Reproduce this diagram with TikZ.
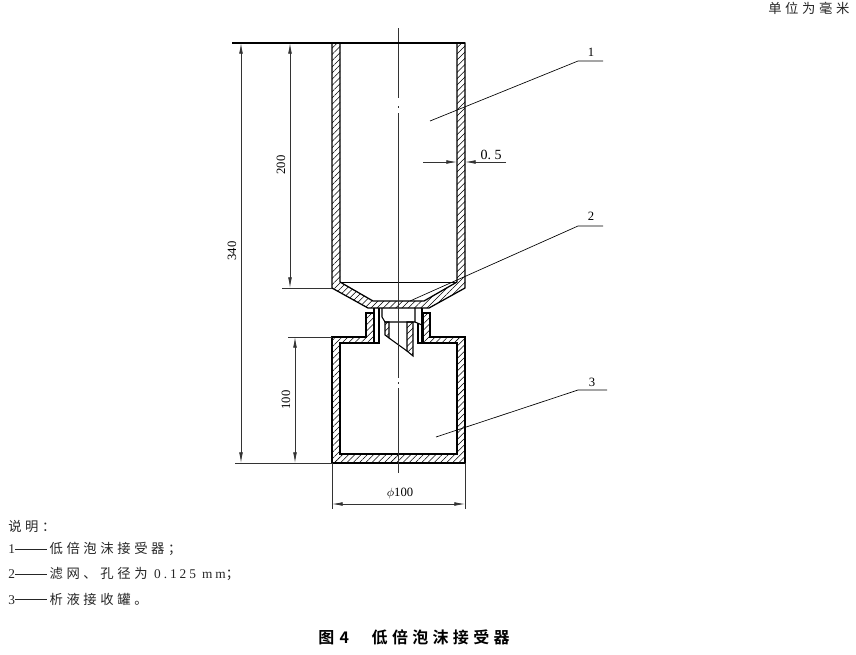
\documentclass[tikz,border=0pt]{standalone}
\usepackage{fontspec}
\newfontfamily\cjk[LetterSpace=27]{Noto Sans CJK SC}
\newfontfamily\cjkcap[LetterSpace=27,BoldFont={Noto Sans CJK SC Bold}]{Noto Sans CJK SC}
\newfontfamily\latwide[LetterSpace=22]{Liberation Serif}
\setmainfont{Liberation Serif}
\newcommand{\lat}[1]{{\latwide #1}}
\newcommand{\longdash}{\rule[0.32em]{24pt}{0.45pt}\hspace{2pt}}
\usetikzlibrary{arrows.meta,patterns.meta}

\begin{document}
\begin{tikzpicture}[x=0.75pt,y=-0.75pt,
    wall/.style={line width=0.95pt,pattern={Lines[angle=45,distance=3.3pt,line width=0.4pt]}},
    edgeline/.style={line width=0.8pt},
    dim/.style={line width=0.55pt,black!80,{Latex[length=8pt,width=2.8pt]}-{Latex[length=8pt,width=2.8pt]}},
    dimtip/.style={line width=0.55pt,black!80,-{Latex[length=8pt,width=2.8pt]}},
    extline/.style={line width=0.55pt,black!80},
    leader/.style={line width=0.5pt},
    num/.style={font=\fontsize{9.5}{11}\selectfont,inner sep=0pt},
    say/.style={font=\fontsize{10}{12}\selectfont\cjk,inner sep=0pt,anchor=west,text=black!85}]

\useasboundingbox (0,0) rectangle (856,654);

\coordinate (T0) at (232,43);
\coordinate (T1) at (465,43);
\coordinate (B0) at (235,463);
\coordinate (B1) at (332,463);
\coordinate (M0) at (282,288);
\coordinate (M1) at (332,288);
\coordinate (N0) at (288,337);
\coordinate (N1) at (332,337);
\coordinate (A0) at (241,43);
\coordinate (A1) at (241,463);
\coordinate (C0) at (290,43);
\coordinate (C1) at (290,288);
\coordinate (D0) at (295,337);
\coordinate (D1) at (295,463);
\coordinate (E0) at (332,504);
\coordinate (E1) at (465,504);
\coordinate (F0) at (332,509);
\coordinate (F1) at (465,509);
\coordinate (F2) at (465,463);
\coordinate (G0) at (423,162);
\coordinate (G1) at (457,162);
\coordinate (G2) at (506,162);
\coordinate (G3) at (465,162);

\draw[wall] (332,43) -- (332,288) -- (368,308) -- (429,308) -- (465,288) -- (465,43)
    -- (457,43) -- (457,282) -- (424,301) -- (373,301) -- (340,282) -- (340,43) -- cycle;
\draw[line width=0.5pt] (340,282) -- (457,282);

\draw[wall] (332,337) -- (332,463) -- (465,463) -- (465,337) -- (430,337) -- (430,313) -- (423,313)
    -- (423,343) -- (457,343) -- (457,454) -- (340,454) -- (340,343) -- (374,343) -- (374,313)
    -- (366,313) -- (366,337) -- cycle;

\draw[edgeline] (374,308) -- (374,343) -- (379,343) -- (379,308);
\draw[edgeline] (382,308) -- (382,317) -- (385,322) -- (415,322) -- (415,308);
\draw[edgeline] (415,322) -- (422,325);
\draw[edgeline] (418,323) -- (418,343) -- (422,343) -- (422,308);
\draw[wall,line width=0.8pt] (385,322) -- (385,335) -- (389,338) -- (389,322) -- cycle;
\draw[wall,line width=0.8pt] (407,322) -- (413,322) -- (413,356) -- (407,351) -- cycle;
\draw[edgeline] (389,338) -- (407,351);

\draw[extline] (398.5,28) -- (398.5,98) (398.5,106) -- (398.5,108) (398.5,113) -- (398.5,378)
    (398.5,382) -- (398.5,384) (398.5,388) -- (398.5,473);

\draw[edgeline] (T0) -- (T1);
\draw[extline] (B0) -- (B1);
\draw[extline] (M0) -- (M1);
\draw[extline] (N0) -- (N1);
\draw[extline] (B1) -- (F0);
\draw[extline] (F2) -- (F1);
\draw[dim] (A0) -- (A1);
\draw[dim] (C0) -- (C1);
\draw[dim] (D0) -- (D1);
\draw[dim] (E0) -- (E1);
\draw[dimtip] (G0) -- (G1);
\draw[dimtip] (G2) -- (G3);

\node[num,rotate=90] (L340) at (232,251) {340};
\node[num,rotate=90] (L200) at (281,165) {200};
\node[num,rotate=90] (L100) at (286,400) {100};
\node[num] (Lphi) at (400,493) {$\phi$100};
\node[num,font=\fontsize{10.5}{12}\selectfont] (L05) at (491,155) {0.\ 5};

\node[num] (P1) at (591,52) {1};
\node[num] (P2) at (591,216) {2};
\node[num] (P3) at (592,382) {3};
\coordinate (K1) at (578,61);
\coordinate (K2) at (578,226);
\coordinate (K3) at (578,390);
\coordinate (H1) at (603,61);
\coordinate (H2) at (603,226);
\coordinate (H3) at (607,390);
\coordinate (J1) at (430,121);
\coordinate (J2) at (410,301);
\coordinate (J3) at (436,437);
\draw[leader] (J1) -- (K1) -- (H1);
\draw[leader] (J2) -- (K2) -- (H2);
\draw[leader] (J3) -- (K3) -- (H3);

\node[say] (unit) at (768,8) {单位为毫米};
\node[say] (note) at (8,526) {说明：};
\node[say] (note1) at (8,549) {\lat{1}\longdash 低倍泡沫接受器；};
\node[say] (note2) at (8,574) {\lat{2}\longdash 滤网、孔径为 \lat{0.125 mm}；};
\node[say] (note3) at (8,599) {\lat{3}\longdash 析液接收罐。};
\node[inner sep=0pt,anchor=west,font=\fontsize{12}{14}\selectfont\cjkcap\bfseries] (title) at (318,637) {图\hspace{4pt}4\hspace{17pt}低倍泡沫接受器};

\end{tikzpicture}
\end{document}
